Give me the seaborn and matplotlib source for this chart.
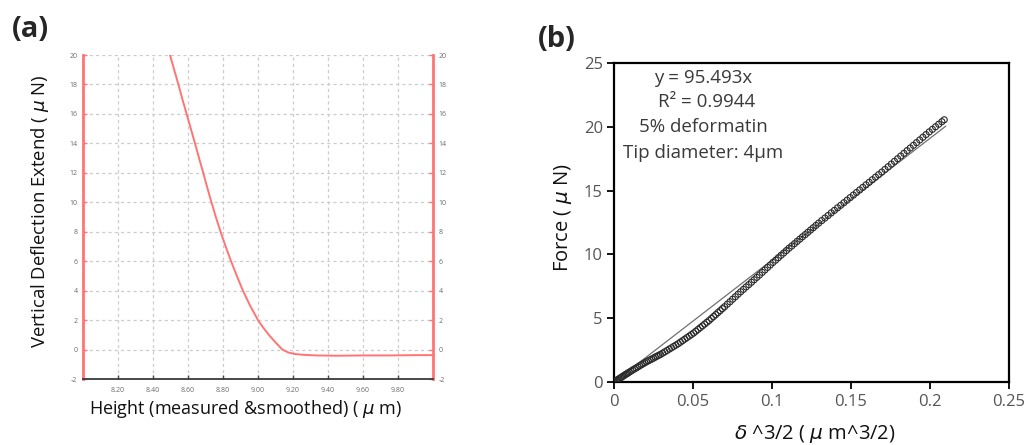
import matplotlib
matplotlib.use("Agg")
import numpy as np
import matplotlib.pyplot as plt
import seaborn as sns

# ---- (a) AFM approach curve: height vs vertical deflection ----
height_um = [8.497, 8.521, 8.545, 8.568, 8.592, 8.616, 8.640, 8.663, 8.687, 8.710,
             8.734, 8.759, 8.786, 8.815, 8.846, 8.879, 8.914, 8.954, 9.000, 9.029,
             9.062, 9.099, 9.139, 9.173, 9.210, 9.260, 9.333, 9.450, 9.600, 9.750,
             9.900, 10.0]
deflection_uN = [20.0, 19.0, 18.0, 17.0, 16.0, 15.0, 14.0, 13.0, 12.0, 11.0,
                 10.0, 9.0, 8.0, 7.0, 6.0, 5.0, 4.0, 3.0, 2.0, 1.5,
                 1.0, 0.5, 0.0, -0.2, -0.3, -0.36, -0.40, -0.42, -0.40, -0.40,
                 -0.38, -0.38]
a_xticks = [8.2, 8.4, 8.6, 8.8, 9.0, 9.2, 9.4, 9.6, 9.8]
a_xticklabels = ["8.20", "8.40", "8.60", "8.80", "9.00", "9.20", "9.40", "9.60", "9.80"]
a_yticks = [-2, 0, 2, 4, 6, 8, 10, 12, 14, 16, 18, 20]

# ---- (b) Hertz fit: force vs indentation^(3/2) ----
delta_32 = [
    0.0000, 0.0008, 0.0016, 0.0024, 0.0032, 0.0040, 0.0048, 0.0056, 0.0064, 0.0072,
    0.0080, 0.0088, 0.0096,
    0.0107, 0.0118, 0.0129, 0.0140, 0.0151, 0.0162, 0.0173, 0.0184, 0.0195, 0.0206,
    0.0217, 0.0228, 0.0239, 0.0250, 0.0261, 0.0272, 0.0283, 0.0294,
    0.0308, 0.0322, 0.0336, 0.0350, 0.0364, 0.0378, 0.0392, 0.0406, 0.0420, 0.0434,
    0.0448, 0.0462, 0.0476, 0.0490, 0.0504, 0.0518, 0.0532, 0.0546, 0.0560, 0.0574,
    0.0588, 0.0602, 0.0616, 0.0630, 0.0644, 0.0658, 0.0672, 0.0686, 0.0700,
    0.0717, 0.0734, 0.0751, 0.0768, 0.0785, 0.0802, 0.0819, 0.0836, 0.0853, 0.0870,
    0.0887, 0.0904, 0.0921, 0.0938, 0.0955, 0.0972, 0.0989, 0.1006, 0.1023, 0.1040,
    0.1057, 0.1074, 0.1091, 0.1108, 0.1125, 0.1142, 0.1159, 0.1176, 0.1193, 0.1210,
    0.1227, 0.1244, 0.1261, 0.1278, 0.1295,
    0.1315, 0.1335, 0.1355, 0.1375, 0.1395, 0.1415, 0.1435, 0.1455, 0.1475, 0.1495,
    0.1515, 0.1535, 0.1555, 0.1575, 0.1595, 0.1615, 0.1635, 0.1655, 0.1675, 0.1695,
    0.1715, 0.1735, 0.1755, 0.1775, 0.1795, 0.1815, 0.1835, 0.1855, 0.1875, 0.1895,
    0.1915, 0.1935, 0.1955, 0.1975, 0.1995, 0.2015, 0.2035, 0.2055, 0.2075, 0.2090,
]
force_uN = [
    0.00, 0.06, 0.13, 0.19, 0.26, 0.32, 0.38, 0.45, 0.51, 0.58,
    0.64, 0.70, 0.77,
    0.85, 0.94, 1.02, 1.10, 1.18, 1.27, 1.35, 1.43, 1.51, 1.59,
    1.66, 1.73, 1.80, 1.87, 1.95, 2.02, 2.09, 2.16,
    2.26, 2.37, 2.47, 2.58, 2.68, 2.79, 2.89, 3.00, 3.12, 3.24,
    3.36, 3.48, 3.60, 3.72, 3.84, 3.98, 4.12, 4.26, 4.40, 4.54,
    4.68, 4.82, 4.98, 5.13, 5.28, 5.44, 5.59, 5.75, 5.90,
    6.10, 6.29, 6.49, 6.68, 6.88, 7.07, 7.26, 7.45, 7.63, 7.82,
    8.01, 8.20, 8.39, 8.59, 8.78, 8.98, 9.17, 9.37, 9.55, 9.74,
    9.93, 10.11, 10.30, 10.49, 10.66, 10.84, 11.02, 11.20, 11.38, 11.55,
    11.73, 11.91, 12.09, 12.27, 12.45,
    12.65, 12.85, 13.05, 13.25, 13.45, 13.65, 13.85, 14.05, 14.25, 14.45,
    14.65, 14.85, 15.05, 15.25, 15.45, 15.65, 15.85, 16.05, 16.25, 16.45,
    16.66, 16.87, 17.08, 17.29, 17.50, 17.71, 17.92, 18.13, 18.34, 18.55,
    18.76, 18.97, 19.18, 19.39, 19.60, 19.80, 20.00, 20.20, 20.40, 20.55,
]
fit_slope = 95.493
fit_r2 = 0.9944
fit_x = [0.0, 0.21]
b_xticks = [0, 0.05, 0.1, 0.15, 0.2, 0.25]
b_xticklabels = ["0", "0.05", "0.1", "0.15", "0.2", "0.25"]
b_yticks = [0, 5, 10, 15, 20, 25]

sns.set_theme(style="white")
plt.rcParams["font.family"] = ["Open Sans", "DejaVu Sans"]
plt.rcParams["mathtext.fontset"] = "dejavusans"

W, H = 1027, 445
fig = plt.figure(figsize=(W / 100, H / 100), dpi=100)
fig.patch.set_facecolor("white")

def px_axes(left, top, right, bottom):
    return fig.add_axes([left / W, 1 - bottom / H, (right - left) / W, (bottom - top) / H])

# ---------------- panel (a) ----------------
ax_a = px_axes(83, 55, 433, 379)
red = "#ff7474"
sns.lineplot(x=height_um, y=deflection_uN, ax=ax_a, color=red, lw=1.4,
             sort=False, estimator=None)
ax_a.set_xlim(8.0, 10.0)
ax_a.set_ylim(-2, 20)
ax_a.set_xticks(a_xticks)
ax_a.set_xticklabels(a_xticklabels)
ax_a.set_yticks(a_yticks)
ax_a.set_yticklabels([str(v) for v in a_yticks])
ax_a.grid(True, color="#cccccc", linestyle=(0, (2.5, 2.5)), lw=0.9)
ax_a.set_axisbelow(True)
for side in ("left", "right"):
    ax_a.spines[side].set_color(red)
    ax_a.spines[side].set_linewidth(2.0)
ax_a.spines["bottom"].set_color("#3a3a3a")
ax_a.spines["bottom"].set_linewidth(1.3)
ax_a.spines["top"].set_visible(False)
ax_a.tick_params(axis="y", which="both", direction="in", length=3, width=1,
                 color=red, labelsize=5, labelcolor="#6a6a6a",
                 left=True, right=True, labelleft=True, labelright=True, pad=4)
ax_a.tick_params(axis="x", direction="in", length=3, width=1, color="#444444",
                 labelsize=5, labelcolor="#6a6a6a", pad=6, bottom=True)
ax_a.set_xlabel(r"Height (measured &smoothed) ( $\mu$ m)", fontsize=13, color="#111111")
ax_a.xaxis.set_label_coords(0.464, -0.093)
ax_a.xaxis.label.set_verticalalignment("center")
ax_a.set_ylabel(r"Vertical Deflection Extend ( $\mu$ N)", fontsize=13.3, color="#111111")
ax_a.yaxis.set_label_coords(-0.123, 0.516)
ax_a.yaxis.label.set_verticalalignment("center")

# ---------------- panel (b) ----------------
ax_b = px_axes(614, 63, 1009, 382)
fit_y = [fit_slope * v for v in fit_x]
sns.lineplot(x=fit_x, y=fit_y, ax=ax_b, color="#707070", lw=0.9, zorder=2)
sns.scatterplot(x=delta_32, y=force_uN, ax=ax_b, marker="o", s=19,
                facecolors="none", edgecolors="#2a2a2a", linewidth=0.8, zorder=3)
ax_b.set_xlim(0, 0.25)
ax_b.set_ylim(0, 25)
ax_b.set_xticks(b_xticks)
ax_b.set_xticklabels(b_xticklabels)
ax_b.set_yticks(b_yticks)
ax_b.set_yticklabels([str(v) for v in b_yticks])
for side in ax_b.spines.values():
    side.set_color("black")
    side.set_linewidth(1.6)
ax_b.tick_params(axis="both", direction="out", length=5, width=1.3, color="black",
                 labelsize=12, labelcolor="#555555", left=True, bottom=True)
ax_b.tick_params(axis="x", pad=4)
ax_b.tick_params(axis="y", pad=3)
ax_b.set_xlabel(r"$\delta$ ^3/2 ( $\mu$ m^3/2)", fontsize=14.5, color="#111111")
ax_b.xaxis.set_label_coords(0.509, -0.163)
ax_b.xaxis.label.set_verticalalignment("center")
ax_b.set_ylabel(r"Force ( $\mu$ N)", fontsize=14.5, color="#111111")
ax_b.yaxis.set_label_coords(-0.129, 0.514)
ax_b.yaxis.label.set_verticalalignment("center")

notes = [
    (0.0563, 23.83, f"y = {fit_slope}x"),
    (0.0587, 21.94, f"R\u00b2 = {fit_r2}"),
    (0.0563, 19.98, "5% deformatin"),
    (0.0563, 17.93, "Tip diameter: 4\u00b5m"),
]
for nx, ny, txt in notes:
    ax_b.text(nx, ny, txt, ha="center", va="center", fontsize=13.5, color="#3a3a3a")

# panel letters
fig.text(12 / W, 1 - 15 / H, "(a)", fontsize=21, fontweight="bold", va="top", ha="left")
fig.text(538 / W, 1 - 25 / H, "(b)", fontsize=21, fontweight="bold", va="top", ha="left")

fig.savefig("out.png", dpi=100, facecolor="white")
